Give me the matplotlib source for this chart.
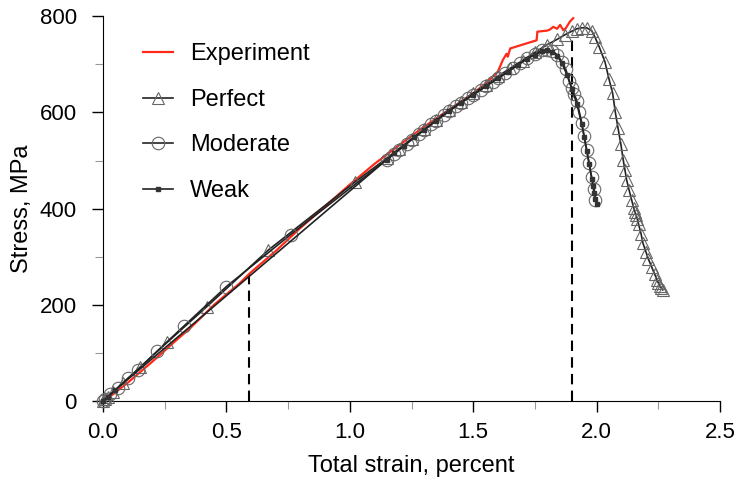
import numpy as np
import matplotlib.pyplot as plt
from matplotlib.ticker import MultipleLocator

plt.rcParams['font.family'] = ['Liberation Sans', 'DejaVu Sans']

# Experiment
exp_x = [0, 0.03, 0.06, 0.1, 0.15, 0.2, 0.25, 0.3, 0.35, 0.4, 0.45, 0.5, 0.55, 0.6,
         0.7, 0.8, 0.9, 1.0, 1.1, 1.2, 1.3, 1.4, 1.5, 1.55, 1.6, 1.62, 1.635, 1.64,
         1.65, 1.7, 1.757, 1.76, 1.798, 1.81, 1.824, 1.84, 1.852, 1.865, 1.875,
         1.892, 1.905]
exp_y = [0, 10, 22, 38, 60, 82, 105, 128, 150, 175, 200, 222, 243, 268,
         312, 360, 405, 450, 493, 532, 570, 605, 640, 660, 685, 709, 722, 716,
         733, 741, 750, 768, 770, 772, 778, 774, 782, 771, 775, 789, 796]

# Perfect
perf_x = [0, 0.01, 0.02, 0.04, 0.08, 0.15, 0.26, 0.42, 0.67, 1.02, 1.15, 1.2, 1.25,
          1.3, 1.35, 1.4, 1.45, 1.5, 1.55, 1.6, 1.65, 1.7, 1.75, 1.8, 1.84, 1.87,
          1.9, 1.92, 1.94, 1.96, 1.98, 1.993, 2.01, 2.034, 2.05, 2.065, 2.076,
          2.087, 2.098, 2.108, 2.115, 2.122, 2.132, 2.142, 2.15, 2.155, 2.16, 2.165,
          2.17, 2.18, 2.188, 2.2, 2.21, 2.223, 2.235, 2.245, 2.25, 2.255, 2.262, 2.268]
perf_y = [0, 5, 9, 18, 37, 70, 122, 196, 314, 455, 505, 525, 545,
          565, 585, 605, 622, 640, 657, 675, 692, 708, 725, 741, 752, 761,
          769, 774, 776, 776, 770, 757, 737, 705, 670, 640, 600,
          567, 535, 501, 480, 459, 438, 418, 402, 394, 387, 378,
          368, 348, 328, 310, 295, 279, 264, 252, 246, 240, 235, 231]

# Moderate
mod_x = [0, 0.01, 0.03, 0.06, 0.1, 0.14, 0.22, 0.33, 0.5, 0.76, 1.15, 1.18, 1.2,
         1.23, 1.25, 1.28, 1.3, 1.33, 1.35, 1.38, 1.4, 1.43, 1.45, 1.48, 1.5, 1.53,
         1.55, 1.58, 1.6, 1.63, 1.66, 1.69, 1.72, 1.75, 1.78, 1.8, 1.82, 1.84, 1.86,
         1.875, 1.89, 1.9, 1.91, 1.92, 1.93, 1.94, 1.95, 1.96, 1.97, 1.98, 1.99,
         1.995]
mod_y = [0, 4, 14, 28, 47, 65, 104, 157, 238, 346, 502, 514, 522,
         535, 543, 555, 563, 575, 583, 594, 602, 613, 620, 630, 637, 647,
         654, 664, 671, 681, 692, 703, 713, 722, 729, 730, 728, 720, 705,
         690, 665, 650, 638, 624, 601, 578, 550, 522, 494, 466, 440, 418]

# Weak
weak_x = [0, 0.02, 0.05, 1.15, 1.18, 1.22, 1.26, 1.3, 1.35, 1.4, 1.45, 1.5, 1.55,
          1.6, 1.64, 1.68, 1.72, 1.75, 1.78, 1.8, 1.82, 1.84, 1.86, 1.88, 1.9,
          1.92, 1.94, 1.95, 1.96, 1.97, 1.98, 1.985, 1.99, 1.995, 2.0]
weak_y = [0, 9, 23, 502, 515, 531, 548, 563, 583, 602, 620, 637, 654,
          671, 684, 698, 712, 720, 727, 729, 726, 718, 702, 678, 648,
          618, 575, 548, 520, 492, 462, 448, 432, 420, 410]

# vertical markers
dash_x = [0.59, 1.9]
dash_top = [268, 760]

fig = plt.figure(figsize=(7.38, 4.78), dpi=100)
ax = fig.add_axes([0.1396, 0.161, 0.836, 0.805])

lc = '#222222'
ax.plot(exp_x, exp_y, color='#ff2a1a', lw=1.6, label='Experiment', zorder=3)
ax.plot(perf_x, perf_y, color=lc, lw=1.2, marker='^', ms=8, mfc='none',
        mec='#666666', mew=0.8, label='Perfect', zorder=4, clip_on=False)
ax.plot(mod_x, mod_y, color=lc, lw=1.2, marker='o', ms=9, mfc='none',
        mec='#666666', mew=0.8, label='Moderate', zorder=4, clip_on=False)
ax.plot(weak_x, weak_y, color=lc, lw=1.2, marker='s', ms=2.5, mfc='#333333',
        mec='#333333', label='Weak', zorder=5, clip_on=False)

for xx, top in zip(dash_x, dash_top):
    ax.plot([xx, xx], [0, top], color='black', lw=1.5, ls=(0, (5, 3)), zorder=2)

ax.set_xlim(0, 2.5)
ax.set_ylim(0, 800)
ax.xaxis.set_major_locator(MultipleLocator(0.5))
ax.xaxis.set_minor_locator(MultipleLocator(0.25))
ax.yaxis.set_major_locator(MultipleLocator(200))
ax.yaxis.set_minor_locator(MultipleLocator(100))
ax.xaxis.set_major_formatter(plt.FuncFormatter(lambda v, p: f'{v:.1f}'))
ax.tick_params(axis='both', which='major', direction='out', length=8, width=1,
               labelsize=16, colors='black')
ax.tick_params(axis='x', which='major', pad=7)
ax.tick_params(axis='y', which='major', pad=11)
ax.tick_params(axis='both', which='minor', direction='out', length=6, width=0.8,
               color='#999999')
ax.spines['top'].set_visible(False)
ax.spines['right'].set_visible(False)
ax.set_xlabel('Total strain, percent', fontsize=17, labelpad=9)
ax.set_ylabel('Stress, MPa', fontsize=17, labelpad=5)

ax.legend(loc='upper left', frameon=False, fontsize=17, labelspacing=1.0,
          handlelength=1.25, handletextpad=0.75, borderpad=0, borderaxespad=0,
          bbox_to_anchor=(0.065, 0.93))

fig.savefig('out.png', dpi=100)
